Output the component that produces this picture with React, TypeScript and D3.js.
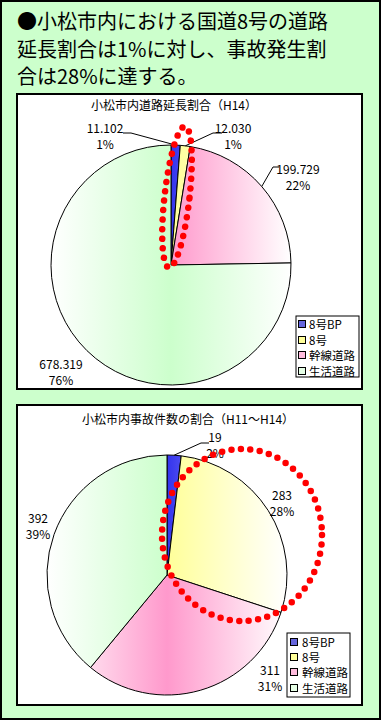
import React from "react";
import * as d3 from "d3";

const categories = ["8号BP", "8号", "幹線道路", "生活道路"];
const roadLengthValues = [11.102, 12.03, 199.729, 678.319];
const roadLengthPercents = ["1%", "1%", "22%", "76%"];
const accidentValues = [19, 283, 311, 392];
const accidentPercents = ["2%", "28%", "31%", "39%"];
const sliceColors = ["#3333ee", "#ffff99", "#ff99cc", "#ccffcc"];
const legendColors = ["#6666dd", "#ffff99", "#ffbbdd", "#e6ffe6"];
const headlineLines = [
  "●小松市内における国道8号の道路",
  "延長割合は1%に対し、事故発生割",
  "合は28%に達する。",
];
const chartTitles = ["小松市内道路延長割合（H14）", "小松市内事故件数の割合（H11～H14）"];

const FONT = "'Noto Sans CJK JP', 'Noto Sans', sans-serif";

type LabelPos = { x: number; y: number; leader?: [number, number, number] };

type PieSpec = {
  id: string;
  values: number[];
  percents: string[];
  fmt: (n: number) => string;
  title: string;
  titleX: number;
  titleY: number;
  box: { x: number; y: number; w: number; h: number };
  cx: number;
  cy: number;
  r: number;
  labels: LabelPos[];
  legend: { x: number; y: number; w: number; h: number; mx: number; tx: number; rows: number[] };
  ellipse: { cx: number; cy: number; rx: number; ry: number; rot: number };
};

const pies: PieSpec[] = [
  {
    id: "p1",
    values: roadLengthValues,
    percents: roadLengthPercents,
    fmt: d3.format(".3f"),
    title: chartTitles[0],
    titleX: 174,
    titleY: 104,
    box: { x: 17, y: 94, w: 345, h: 295 },
    cx: 171,
    cy: 265,
    r: 120,
    labels: [
      { x: 105, y: 127, leader: [123, 133, 131] },
      { x: 233, y: 127, leader: [222, 133, 213] },
      { x: 298, y: 168, leader: [279, 167, 273] },
      { x: 61, y: 363 },
    ],
    legend: { x: 296, y: 316, w: 63, h: 61, mx: 298, tx: 309, rows: [324, 340, 355, 371] },
    ellipse: { cx: 177, cy: 197, rx: 12.5, ry: 71, rot: 6.5 },
  },
  {
    id: "p2",
    values: accidentValues,
    percents: accidentPercents,
    fmt: d3.format("d"),
    title: chartTitles[1],
    titleX: 188,
    titleY: 418,
    box: { x: 17, y: 405, w: 345, h: 300 },
    cx: 167,
    cy: 575,
    r: 120,
    labels: [
      { x: 215, y: 436, leader: [209, 443, 201] },
      { x: 282, y: 494 },
      { x: 270, y: 669 },
      { x: 38, y: 517 },
    ],
    legend: { x: 287, y: 633, w: 63, h: 64, mx: 290, tx: 302, rows: [642, 657, 672, 688] },
    ellipse: { cx: 242, cy: 535, rx: 80, ry: 86, rot: 0 },
  },
];

function PieChart({ spec }: { spec: PieSpec }) {
  const pie = d3
    .pie<number>()
    .sort(null)
    .value((d) => d)
    .startAngle(0)
    .endAngle(2 * Math.PI);
  const arcs = pie(spec.values);
  const arc = d3.arc<d3.PieArcDatum<number>>().innerRadius(0).outerRadius(spec.r);
  const edge = d3.arc<d3.PieArcDatum<number>>().innerRadius(spec.r).outerRadius(spec.r);

  return (
    <g>
      <defs>
        {sliceColors.map((c, i) => (
          <linearGradient
            key={i}
            id={`${spec.id}-g${i}`}
            gradientUnits="userSpaceOnUse"
            x1={-spec.r}
            y1={0}
            x2={spec.r}
            y2={0}
          >
            <stop offset="0%" stopColor="#ffffff" />
            <stop offset="50%" stopColor={c} />
            <stop offset="100%" stopColor="#ffffff" />
          </linearGradient>
        ))}
      </defs>
      <rect
        x={spec.box.x}
        y={spec.box.y}
        width={spec.box.w}
        height={spec.box.h}
        fill="#ffffff"
        stroke="#000"
        strokeWidth={2}
      />
      <text
        x={spec.titleX}
        y={spec.titleY}
        textAnchor="middle"
        dominantBaseline="central"
        fontSize={12}
        fontFamily={FONT}
        fill="#000"
      >
        {spec.title}
      </text>
      {arcs.map((a, i) => (
        <path
          key={i}
          d={arc(a) || ""}
          transform={`translate(${spec.cx},${spec.cy})`}
          fill={`url(#${spec.id}-g${i})`}
          stroke="#000"
          strokeWidth={1}
        />
      ))}
      {spec.labels.map((l, i) => {
        const [ex, ey] = edge.centroid(arcs[i]);
        return (
          <g key={i}>
            {l.leader && (
              <polyline
                points={`${l.leader[0]},${l.leader[1]} ${l.leader[2]},${l.leader[1]} ${spec.cx + ex},${spec.cy + ey}`}
                fill="none"
                stroke="#000"
                strokeWidth={1}
              />
            )}
            <text
              x={l.x}
              y={l.y}
              textAnchor="middle"
              dominantBaseline="central"
              fontSize={12}
              fontFamily={FONT}
              fill="#000"
            >
              {spec.fmt(spec.values[i])}
            </text>
            <text
              x={l.x}
              y={l.y + 16}
              textAnchor="middle"
              dominantBaseline="central"
              fontSize={12}
              fontFamily={FONT}
              fill="#000"
            >
              {spec.percents[i]}
            </text>
          </g>
        );
      })}
      <ellipse
        cx={0}
        cy={0}
        rx={spec.ellipse.rx}
        ry={spec.ellipse.ry}
        transform={`translate(${spec.ellipse.cx},${spec.ellipse.cy}) rotate(${spec.ellipse.rot})`}
        fill="none"
        stroke="#ff0000"
        strokeWidth={6.5}
        strokeDasharray="0 9.5"
        strokeLinecap="round"
      />
      <rect
        x={spec.legend.x}
        y={spec.legend.y}
        width={spec.legend.w}
        height={spec.legend.h}
        fill="#ffffff"
        stroke="#000"
        strokeWidth={1}
      />
      {categories.map((c, i) => (
        <g key={c}>
          <rect
            x={spec.legend.mx + 0.5}
            y={spec.legend.rows[i] - 3.5}
            width={7}
            height={7}
            fill={legendColors[i]}
            stroke="#000"
            strokeWidth={1}
          />
          <text
            x={spec.legend.tx}
            y={spec.legend.rows[i]}
            dominantBaseline="central"
            fontSize={11.5}
            fontFamily={FONT}
            fill="#000"
          >
            {c}
          </text>
        </g>
      ))}
    </g>
  );
}

export default function App() {
  return (
    <svg width={382} height={724} style={{ position: "absolute", left: 0, top: 0 }}>
      <rect x={1} y={1} width={379} height={718} fill="#ccffcc" stroke="#000" strokeWidth={2} />
      {headlineLines.map((t, i) => (
        <text key={i} x={17} y={29 + i * 27.5} fontSize={20} fontFamily={FONT} fill="#000">
          {t}
        </text>
      ))}
      {pies.map((spec) => (
        <PieChart key={spec.id} spec={spec} />
      ))}
    </svg>
  );
}
